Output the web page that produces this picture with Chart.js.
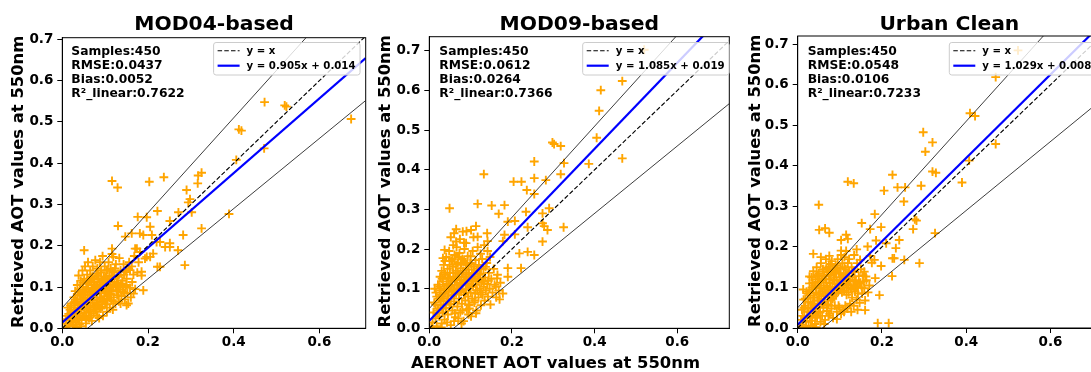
<!DOCTYPE html>
<html><head><meta charset="utf-8">
<script src="https://cdn.jsdelivr.net/npm/chart.js@4.4.0/dist/chart.umd.min.js"></script>
<style>
html,body{margin:0;padding:0;background:#fff;overflow:hidden;width:1091px;height:372px;position:relative}
canvas{position:absolute;top:0}
</style></head><body>
<canvas id="c0" width="372" height="372" style="left:0px"></canvas>
<canvas id="c1" width="368" height="372" style="left:372px"></canvas>
<canvas id="c2" width="372" height="372" style="left:740px"></canvas>
<script>
// ---------------- data ----------------
const panelTitles = ['MOD04-based', 'MOD09-based', 'Urban Clean'];
const yAxisTitle = 'Retrieved AOT values at 550nm';
const xAxisTitle = 'AERONET AOT values at 550nm';
const xTickValues = [0, 0.2, 0.4, 0.6];
const xTickLabels = ['0.0', '0.2', '0.4', '0.6'];
const yTickValues = [0, 0.1, 0.2, 0.3, 0.4, 0.5, 0.6, 0.7];
const yTickLabels = ['0.0', '0.1', '0.2', '0.3', '0.4', '0.5', '0.6', '0.7'];
const samples = [450, 450, 450];
const rmse = ['0.0437', '0.0612', '0.0548'];
const bias = ['0.0052', '0.0264', '0.0106'];
const r2 = ['0.7622', '0.7366', '0.7233'];
const fitSlope = [0.905, 1.085, 1.029];
const fitIntercept = [0.014, 0.019, 0.008];
const fitLabels = ['y = 0.905x + 0.014', 'y = 1.085x + 0.019', 'y = 1.029x + 0.008'];
const identityLabel = 'y = x';
const xMax = [0.708, 0.726, 0.72];
const yMax = [0.704, 0.736, 0.7205];
const eeSlopeUpper = 1.15, eeSlopeLower = 0.85, eeOffset = 0.05;

const mod04Points = [
[0.010,0.012],[0.012,0.030],[0.015,0.005],[0.018,0.045],[0.020,0.020],[0.022,0.060],[0.024,0.008],[0.025,0.035],[0.027,0.075],[0.028,0.050],
[0.030,0.015],[0.030,0.090],[0.032,0.040],[0.033,0.065],[0.035,0.025],[0.035,0.105],[0.036,0.080],[0.038,0.055],[0.038,0.128],[0.040,0.010],
[0.040,0.035],[0.041,0.095],[0.042,0.070],[0.043,0.115],[0.044,0.048],[0.045,0.022],[0.046,0.085],[0.047,0.140],[0.048,0.060],[0.049,0.100],
[0.050,0.030],[0.050,0.075],[0.051,0.120],[0.052,0.045],[0.053,0.150],[0.054,0.090],[0.055,0.012],[0.055,0.065],[0.056,0.108],[0.057,0.038],
[0.058,0.130],[0.059,0.080],[0.060,0.055],[0.060,0.160],[0.061,0.095],[0.062,0.025],[0.063,0.115],[0.064,0.070],[0.065,0.140],[0.066,0.045],
[0.067,0.088],[0.068,0.105],[0.069,0.018],[0.070,0.062],[0.070,0.125],[0.071,0.150],[0.072,0.078],[0.073,0.035],[0.074,0.098],[0.075,0.112],
[0.076,0.055],[0.077,0.165],[0.078,0.085],[0.079,0.132],[0.080,0.040],[0.080,0.070],[0.081,0.105],[0.082,0.145],[0.083,0.058],[0.084,0.092],
[0.085,0.120],[0.086,0.025],[0.087,0.075],[0.088,0.160],[0.089,0.100],[0.090,0.048],[0.090,0.135],[0.091,0.085],[0.092,0.115],[0.093,0.065],
[0.094,0.175],[0.095,0.030],[0.096,0.095],[0.097,0.125],[0.098,0.078],[0.099,0.150],[0.100,0.058],[0.101,0.108],[0.102,0.088],[0.103,0.140],
[0.104,0.040],[0.105,0.118],[0.106,0.070],[0.107,0.098],[0.108,0.160],[0.109,0.082],[0.110,0.128],[0.111,0.050],[0.112,0.105],[0.113,0.145],
[0.114,0.068],[0.115,0.090],[0.116,0.180],[0.117,0.120],[0.118,0.045],[0.119,0.100],[0.120,0.075],[0.121,0.135],[0.122,0.112],[0.124,0.060],
[0.125,0.155],[0.126,0.092],[0.128,0.080],[0.129,0.125],[0.130,0.105],[0.132,0.065],[0.133,0.170],[0.135,0.095],[0.136,0.140],[0.138,0.078],
[0.140,0.115],[0.142,0.088],[0.144,0.130],[0.146,0.070],[0.148,0.100],[0.150,0.120],[0.152,0.085],[0.155,0.145],[0.158,0.098],[0.160,0.075],
[0.163,0.112],[0.166,0.130],[0.170,0.095],[0.005,0.002],[0.008,0.022],[0.013,0.050],[0.017,0.010],[0.021,0.040],[0.026,0.018],[0.029,0.062],
[0.034,0.003],[0.037,0.045],[0.039,0.088],[0.044,0.005],[0.048,0.110],[0.053,0.028],[0.057,0.095],[0.062,0.040],[0.066,0.122],[0.072,0.050],
[0.076,0.092],[0.082,0.030],[0.087,0.110],[0.093,0.052],[0.098,0.120],[0.103,0.072],[0.108,0.095],[0.113,0.082],[0.118,0.138],[0.124,0.100],
[0.131,0.090],[0.137,0.108],[0.143,0.155],[0.148,0.140],[0.156,0.160],[0.162,0.150],[0.168,0.175],[0.175,0.135],[0.178,0.160],[0.185,0.128],
[0.015,0.035],[0.019,0.055],[0.023,0.025],[0.027,0.042],[0.031,0.070],[0.034,0.032],[0.036,0.058],[0.039,0.020],[0.042,0.082],[0.045,0.060],
[0.047,0.030],[0.050,0.052],[0.052,0.088],[0.054,0.072],[0.056,0.020],[0.058,0.048],[0.060,0.110],[0.063,0.082],[0.065,0.055],[0.067,0.030],
[0.069,0.098],[0.071,0.068],[0.073,0.118],[0.075,0.085],[0.077,0.045],[0.079,0.102],[0.081,0.062],[0.083,0.128],[0.085,0.095],[0.087,0.050],
[0.089,0.072],[0.091,0.140],[0.093,0.100],[0.095,0.115],[0.097,0.068],[0.099,0.090],[0.101,0.125],[0.104,0.058],[0.106,0.142],[0.110,0.110],
[0.112,0.085],[0.115,0.125],[0.119,0.065],[0.123,0.145],[0.127,0.110],[0.132,0.128],[0.136,0.060],[0.141,0.100],[0.145,0.085],[0.150,0.105],
[0.116,0.357],[0.129,0.341],[0.203,0.355],[0.237,0.366],[0.317,0.370],[0.325,0.377],[0.316,0.351],[0.290,0.335],[0.298,0.313],[0.294,0.305],
[0.222,0.284],[0.271,0.281],[0.302,0.281],[0.176,0.270],[0.197,0.269],[0.251,0.260],[0.130,0.248],[0.205,0.246],[0.181,0.230],[0.162,0.230],
[0.147,0.222],[0.282,0.226],[0.325,0.242],[0.389,0.277],[0.406,0.408],[0.209,0.226],[0.220,0.209],[0.228,0.209],[0.240,0.197],[0.251,0.197],
[0.251,0.206],[0.174,0.193],[0.181,0.185],[0.212,0.181],[0.205,0.173],[0.193,0.169],[0.270,0.189],[0.228,0.149],[0.286,0.153],[0.158,0.141],
[0.185,0.137],[0.166,0.084],[0.189,0.092],[0.150,0.056],[0.116,0.193],[0.051,0.189],[0.119,0.173],[0.472,0.548],[0.519,0.540],[0.523,0.537],
[0.412,0.482],[0.418,0.479],[0.674,0.507],[0.471,0.436],[0.189,0.226],[0.170,0.193],[0.222,0.149],[0.150,0.136],[0.197,0.173],[0.154,0.060]
];

const mod09Points = [
[0.008,0.015],[0.010,0.040],[0.012,0.065],[0.015,0.025],[0.016,0.090],[0.018,0.005],[0.020,0.050],[0.021,0.110],[0.023,0.075],[0.024,0.030],
[0.026,0.130],[0.027,0.058],[0.028,0.095],[0.030,0.012],[0.030,0.145],[0.031,0.080],[0.032,0.040],[0.033,0.118],[0.034,0.068],[0.035,0.160],
[0.036,0.100],[0.037,0.022],[0.038,0.088],[0.039,0.135],[0.040,0.052],[0.041,0.180],[0.042,0.112],[0.043,0.075],[0.044,0.150],[0.045,0.035],
[0.046,0.125],[0.047,0.092],[0.048,0.195],[0.049,0.060],[0.050,0.140],[0.051,0.105],[0.052,0.008],[0.053,0.170],[0.054,0.082],[0.055,0.118],
[0.056,0.045],[0.057,0.155],[0.058,0.098],[0.059,0.130],[0.060,0.068],[0.061,0.185],[0.062,0.110],[0.063,0.028],[0.064,0.145],[0.065,0.088],
[0.066,0.205],[0.067,0.122],[0.068,0.055],[0.069,0.165],[0.070,0.100],[0.071,0.138],[0.072,0.075],[0.073,0.190],[0.074,0.115],[0.075,0.040],
[0.076,0.152],[0.077,0.092],[0.078,0.128],[0.079,0.062],[0.080,0.175],[0.081,0.108],[0.082,0.145],[0.083,0.018],[0.084,0.085],[0.085,0.200],
[0.086,0.122],[0.087,0.070],[0.088,0.160],[0.089,0.098],[0.090,0.135],[0.091,0.048],[0.092,0.112],[0.093,0.182],[0.094,0.080],[0.095,0.148],
[0.096,0.102],[0.097,0.060],[0.098,0.128],[0.099,0.165],[0.100,0.090],[0.101,0.030],[0.102,0.118],[0.103,0.140],[0.104,0.075],[0.105,0.195],
[0.106,0.105],[0.108,0.155],[0.109,0.065],[0.110,0.130],[0.111,0.088],[0.112,0.172],[0.113,0.110],[0.114,0.045],[0.115,0.145],[0.116,0.095],
[0.118,0.125],[0.119,0.078],[0.120,0.160],[0.122,0.100],[0.123,0.138],[0.125,0.058],[0.126,0.115],[0.128,0.175],[0.129,0.085],[0.131,0.150],
[0.132,0.105],[0.134,0.070],[0.135,0.128],[0.137,0.095],[0.139,0.165],[0.140,0.112],[0.142,0.080],[0.144,0.140],[0.146,0.100],[0.148,0.060],
[0.150,0.125],[0.153,0.090],[0.156,0.150],[0.158,0.110],[0.162,0.078],[0.165,0.135],[0.168,0.095],[0.172,0.115],[0.178,0.088],[0.005,0.002],
[0.013,0.100],[0.019,0.038],[0.025,0.085],[0.029,0.002],[0.034,0.050],[0.038,0.170],[0.043,0.015],[0.047,0.108],[0.052,0.062],[0.058,0.210],
[0.062,0.038],[0.068,0.140],[0.074,0.225],[0.078,0.012],[0.084,0.120],[0.089,0.215],[0.095,0.035],[0.100,0.182],[0.107,0.230],[0.117,0.205],
[0.124,0.188],[0.133,0.210],[0.141,0.195],[0.147,0.180],[0.060,0.240],[0.090,0.245],
[0.015,0.060],[0.018,0.080],[0.022,0.045],[0.025,0.105],[0.028,0.070],[0.031,0.125],[0.034,0.088],[0.036,0.140],[0.039,0.060],[0.041,0.100],
[0.044,0.128],[0.046,0.075],[0.049,0.160],[0.051,0.120],[0.054,0.095],[0.056,0.175],[0.058,0.140],[0.060,0.085],[0.063,0.125],[0.065,0.160],
[0.067,0.098],[0.070,0.180],[0.072,0.130],[0.074,0.095],[0.077,0.165],[0.079,0.112],[0.081,0.140],[0.084,0.170],[0.086,0.090],[0.088,0.130],
[0.091,0.160],[0.093,0.120],[0.096,0.140],[0.098,0.105],[0.102,0.160],[0.105,0.125],[0.108,0.140],[0.112,0.120],[0.116,0.150],[0.121,0.135],
[0.125,0.150],[0.130,0.120],[0.136,0.155],[0.143,0.120],[0.060,0.018],[0.070,0.025],[0.080,0.045],[0.095,0.058],[0.110,0.070],[0.125,0.090],
[0.298,0.469],[0.302,0.465],[0.318,0.460],[0.254,0.421],[0.326,0.417],[0.386,0.415],[0.467,0.429],[0.318,0.389],[0.132,0.389],[0.204,0.370],
[0.223,0.370],[0.254,0.379],[0.282,0.374],[0.236,0.349],[0.254,0.339],[0.049,0.303],[0.117,0.314],[0.151,0.310],[0.182,0.311],[0.168,0.289],
[0.234,0.294],[0.274,0.290],[0.290,0.303],[0.190,0.269],[0.207,0.271],[0.238,0.255],[0.274,0.265],[0.278,0.258],[0.286,0.248],[0.325,0.255],
[0.065,0.250],[0.081,0.244],[0.101,0.248],[0.113,0.258],[0.052,0.230],[0.065,0.219],[0.084,0.216],[0.117,0.231],[0.140,0.240],[0.141,0.220],
[0.182,0.236],[0.178,0.220],[0.207,0.237],[0.274,0.219],[0.218,0.189],[0.238,0.193],[0.254,0.185],[0.222,0.152],[0.190,0.152],[0.190,0.130],
[0.164,0.126],[0.161,0.105],[0.170,0.073],[0.113,0.038],[0.097,0.050],[0.037,0.198],[0.033,0.177],[0.467,0.624],[0.415,0.601],[0.411,0.549],
[0.405,0.481],[0.520,0.703]
];

const urbanCleanPoints = [
[0.005,0.003],[0.008,0.020],[0.010,0.045],[0.012,0.008],[0.014,0.070],[0.016,0.030],[0.018,0.055],[0.020,0.015],[0.021,0.090],[0.023,0.040],
[0.025,0.065],[0.026,0.005],[0.028,0.110],[0.029,0.028],[0.030,0.080],[0.032,0.050],[0.033,0.125],[0.034,0.018],[0.035,0.095],[0.036,0.060],
[0.037,0.140],[0.038,0.035],[0.039,0.075],[0.040,0.105],[0.041,0.010],[0.042,0.120],[0.043,0.048],[0.044,0.088],[0.045,0.150],[0.046,0.025],
[0.047,0.068],[0.048,0.112],[0.049,0.040],[0.050,0.135],[0.051,0.082],[0.052,0.058],[0.053,0.098],[0.054,0.015],[0.055,0.160],[0.056,0.072],
[0.057,0.118],[0.058,0.030],[0.059,0.090],[0.060,0.145],[0.061,0.050],[0.062,0.105],[0.063,0.128],[0.064,0.065],[0.065,0.020],[0.066,0.085],
[0.067,0.170],[0.068,0.112],[0.069,0.042],[0.070,0.138],[0.071,0.078],[0.072,0.095],[0.073,0.058],[0.074,0.152],[0.075,0.120],[0.076,0.035],
[0.077,0.102],[0.078,0.085],[0.079,0.130],[0.080,0.048],[0.081,0.165],[0.082,0.110],[0.083,0.092],[0.084,0.025],[0.085,0.140],[0.086,0.078],
[0.087,0.118],[0.088,0.055],[0.089,0.100],[0.090,0.155],[0.091,0.085],[0.092,0.125],[0.093,0.040],[0.094,0.108],[0.095,0.170],[0.096,0.090],
[0.098,0.135],[0.099,0.050],[0.100,0.115],[0.101,0.095],[0.102,0.148],[0.103,0.035],[0.104,0.125],[0.105,0.088],[0.106,0.160],[0.107,0.105],
[0.108,0.045],[0.109,0.132],[0.110,0.092],[0.111,0.175],[0.112,0.115],[0.113,0.055],[0.114,0.145],[0.115,0.100],[0.116,0.082],[0.117,0.128],
[0.118,0.048],[0.119,0.160],[0.120,0.108],[0.121,0.088],[0.122,0.140],[0.124,0.060],[0.125,0.118],[0.126,0.098],[0.128,0.150],[0.129,0.075],
[0.130,0.125],[0.132,0.105],[0.133,0.055],[0.135,0.138],[0.136,0.090],[0.138,0.115],[0.140,0.070],[0.141,0.160],[0.143,0.100],[0.145,0.128],
[0.147,0.062],[0.149,0.112],[0.150,0.145],[0.153,0.085],[0.155,0.130],[0.158,0.098],[0.160,0.068],[0.163,0.118],[0.167,0.088],[0.170,0.105],
[0.013,0.095],[0.019,0.002],[0.024,0.085],[0.031,0.005],[0.036,0.112],[0.044,0.002],[0.048,0.130],[0.053,0.038],[0.058,0.122],[0.063,0.010],
[0.068,0.148],[0.073,0.030],[0.078,0.158],[0.083,0.072],[0.088,0.140],[0.093,0.022],[0.097,0.055],[0.103,0.180],[0.110,0.040],[0.115,0.190],
[0.122,0.170],[0.127,0.040],[0.134,0.180],[0.142,0.045],[0.148,0.168],
[0.012,0.030],[0.015,0.050],[0.018,0.072],[0.022,0.025],[0.025,0.048],[0.028,0.090],[0.031,0.062],[0.034,0.100],[0.037,0.075],[0.040,0.055],
[0.043,0.100],[0.046,0.130],[0.049,0.085],[0.052,0.115],[0.055,0.100],[0.058,0.060],[0.061,0.140],[0.064,0.095],[0.067,0.120],[0.070,0.100],
[0.073,0.132],[0.076,0.112],[0.079,0.068],[0.082,0.145],[0.085,0.120],[0.088,0.098],[0.091,0.135],[0.094,0.150],[0.098,0.110],[0.101,0.135],
[0.104,0.110],[0.107,0.120],[0.111,0.150],[0.114,0.125],[0.117,0.110],[0.120,0.135],[0.124,0.115],[0.128,0.095],[0.131,0.140],[0.135,0.118],
[0.139,0.100],[0.143,0.085],[0.146,0.110],[0.152,0.100],[0.157,0.115],[0.030,0.040],[0.042,0.030],[0.050,0.068],[0.062,0.078],[0.070,0.055],
[0.320,0.458],[0.303,0.435],[0.320,0.386],[0.328,0.383],[0.390,0.359],[0.407,0.413],[0.119,0.361],[0.133,0.357],[0.225,0.378],[0.205,0.339],
[0.237,0.347],[0.255,0.347],[0.293,0.351],[0.252,0.312],[0.050,0.304],[0.183,0.281],[0.278,0.268],[0.282,0.265],[0.274,0.244],[0.326,0.234],
[0.051,0.242],[0.065,0.246],[0.075,0.235],[0.152,0.259],[0.172,0.244],[0.198,0.249],[0.103,0.217],[0.115,0.230],[0.119,0.220],[0.140,0.194],
[0.166,0.201],[0.186,0.216],[0.210,0.209],[0.233,0.197],[0.241,0.217],[0.037,0.183],[0.055,0.175],[0.075,0.178],[0.103,0.191],[0.172,0.178],
[0.182,0.168],[0.176,0.161],[0.225,0.172],[0.229,0.172],[0.253,0.168],[0.289,0.160],[0.198,0.153],[0.158,0.139],[0.162,0.127],[0.184,0.123],
[0.224,0.128],[0.194,0.081],[0.160,0.044],[0.190,0.012],[0.216,0.012],[0.028,0.127],[0.047,0.128],[0.134,0.102],[0.409,0.530],[0.421,0.523],
[0.470,0.619],[0.470,0.454],[0.298,0.483],[0.523,0.685]
];

const panelPoints = [mod04Points, mod09Points, urbanCleanPoints];

// ---------------- layout / style (pixels) ----------------
const FONT = '"DejaVu Sans", "Liberation Sans", sans-serif';
const layouts = [
  {pad:{left:0, top:37.7, right:5.3, bottom:13.7}, yW:62.3, xH:30, yTitleX:22.7, legendDx:151.3, textDx:9},
  {pad:{left:0, top:36.7, right:10.7, bottom:13.7}, yW:57.3, xH:30, yTitleX:18.3, legendDx:153.4, textDx:10, xTitle:{x:183.5, y:367.7}},
  {pad:{left:0, top:36, right:11, bottom:14}, yW:57.7, xH:30, yTitleX:19.5, legendDx:151.6, textDx:10}
];

function decoPlugin(i) {
  const L = layouts[i];
  return {
    id: 'deco' + i,
    afterDatasetsDraw(chart) {
      const ctx = chart.ctx, a = chart.chartArea;
      ctx.save();
      ctx.strokeStyle = '#000'; ctx.lineWidth = 1;
      ctx.strokeRect(a.left, a.top, a.right - a.left, a.bottom - a.top);
      ctx.fillStyle = '#000';
      ctx.textAlign = 'left'; ctx.textBaseline = 'alphabetic';
      ctx.font = 'bold 12.3px ' + FONT;
      const stat = ['Samples:' + samples[i], 'RMSE:' + rmse[i], 'Bias:' + bias[i], 'R\u00b2_linear:' + r2[i]];
      const base = [55, 69, 83.1, 96.8];
      stat.forEach((t, k) => ctx.fillText(t, a.left + L.textDx, base[k]));
      ctx.font = 'bold 10.2px ' + FONT;
      const labels = [identityLabel, fitLabels[i]];
      const tw = Math.max(...labels.map(t => ctx.measureText(t).width));
      const bx = a.left + L.legendDx, by = 42.5, bw = 33 + tw + 4.5, bh = 32.5;
      ctx.beginPath();
      ctx.roundRect(bx, by, bw, bh, 2.5);
      ctx.fillStyle = 'rgba(255,255,255,0.8)'; ctx.fill();
      ctx.strokeStyle = '#cccccc'; ctx.lineWidth = 1; ctx.stroke();
      const rows = [50.7, 65.7];
      ctx.strokeStyle = '#000'; ctx.lineWidth = 1.1; ctx.setLineDash([4.5, 2.2]);
      ctx.beginPath(); ctx.moveTo(bx + 4, rows[0]); ctx.lineTo(bx + 26, rows[0]); ctx.stroke();
      ctx.setLineDash([]);
      ctx.strokeStyle = '#0000ff'; ctx.lineWidth = 2.2;
      ctx.beginPath(); ctx.moveTo(bx + 4, rows[1]); ctx.lineTo(bx + 26, rows[1]); ctx.stroke();
      ctx.fillStyle = '#000';
      labels.forEach((t, k) => ctx.fillText(t, bx + 33, rows[k] + 3.7));
      ctx.restore();
    },
    afterDraw(chart) {
      const ctx = chart.ctx, a = chart.chartArea;
      ctx.save();
      ctx.fillStyle = '#000';
      ctx.textBaseline = 'alphabetic'; ctx.textAlign = 'center';
      ctx.font = 'bold 20.3px ' + FONT;
      ctx.fillText(panelTitles[i], (a.left + a.right) / 2, 30);
      ctx.font = 'bold 16.4px ' + FONT;
      ctx.save();
      ctx.translate(L.yTitleX, (a.top + a.bottom) / 2 - 1.2);
      ctx.rotate(-Math.PI / 2);
      ctx.fillText(yAxisTitle, 0, 0);
      ctx.restore();
      if (L.xTitle) ctx.fillText(xAxisTitle, L.xTitle.x, L.xTitle.y);
      ctx.restore();
    }
  };
}

function lineSet(label, x0, x1, m, b, color, width, dash, order) {
  return {
    type: 'line', label, data: [{x: x0, y: m * x0 + b}, {x: x1, y: m * x1 + b}],
    borderColor: color, borderWidth: width, borderDash: dash, pointRadius: 0,
    fill: false, tension: 0, clip: 0, order
  };
}

function buildChart(i) {
  const L = layouts[i];
  const xm = xMax[i], ym = yMax[i];
  const tickFont = {family: FONT, size: 13.5, weight: 'bold'};
  new Chart(document.getElementById('c' + i), {
    type: 'scatter',
    data: {
      datasets: [
        {label: 'samples', data: panelPoints[i].map(p => ({x: p[0], y: p[1]})),
         pointStyle: 'cross', pointRadius: 4.4, pointBorderWidth: 1.9,
         borderColor: '#ffa500', backgroundColor: '#ffa500', clip: 0, order: 10},
        lineSet('upper', 0, xm, eeSlopeUpper, eeOffset, 'rgba(0,0,0,0.9)', 0.85, [], 3),
        lineSet('lower', 0, xm, eeSlopeLower, -eeOffset, 'rgba(0,0,0,0.9)', 0.85, [], 3),
        lineSet(fitLabels[i], 0, xm, fitSlope[i], fitIntercept[i], '#0000ff', 2.2, [], 2),
        lineSet(identityLabel, 0, xm, 1, 0, '#000000', 1.15, [4.5, 2.2], 1)
      ]
    },
    options: {
      responsive: false, animation: false, events: [],
      layout: {padding: L.pad},
      plugins: {legend: {display: false}, tooltip: {enabled: false}, title: {display: false}},
      scales: {
        x: {
          type: 'linear', min: 0, max: xm,
          afterBuildTicks: s => { s.ticks = xTickValues.map(v => ({value: v})); },
          afterFit: s => { s.height = L.xH; },
          ticks: {font: tickFont, color: '#000', padding: 1, maxRotation: 0,
                  callback: (v) => xTickLabels[xTickValues.findIndex(t => Math.abs(t - v) < 1e-9)]},
          grid: {drawOnChartArea: false, drawTicks: true, tickLength: 5, tickColor: '#000', tickWidth: 1},
          border: {display: true, color: '#000', width: 1}
        },
        y: {
          type: 'linear', min: 0, max: ym,
          afterBuildTicks: s => { s.ticks = yTickValues.map(v => ({value: v})); },
          afterFit: s => { s.width = L.yW; },
          ticks: {font: tickFont, color: '#000', padding: 4,
                  callback: (v) => yTickLabels[yTickValues.findIndex(t => Math.abs(t - v) < 1e-9)]},
          grid: {drawOnChartArea: false, drawTicks: true, tickLength: 5, tickColor: '#000', tickWidth: 1},
          border: {display: true, color: '#000', width: 1}
        }
      }
    },
    plugins: [decoPlugin(i)]
  });
}
[0, 1, 2].forEach(buildChart);
</script>
</body></html>
